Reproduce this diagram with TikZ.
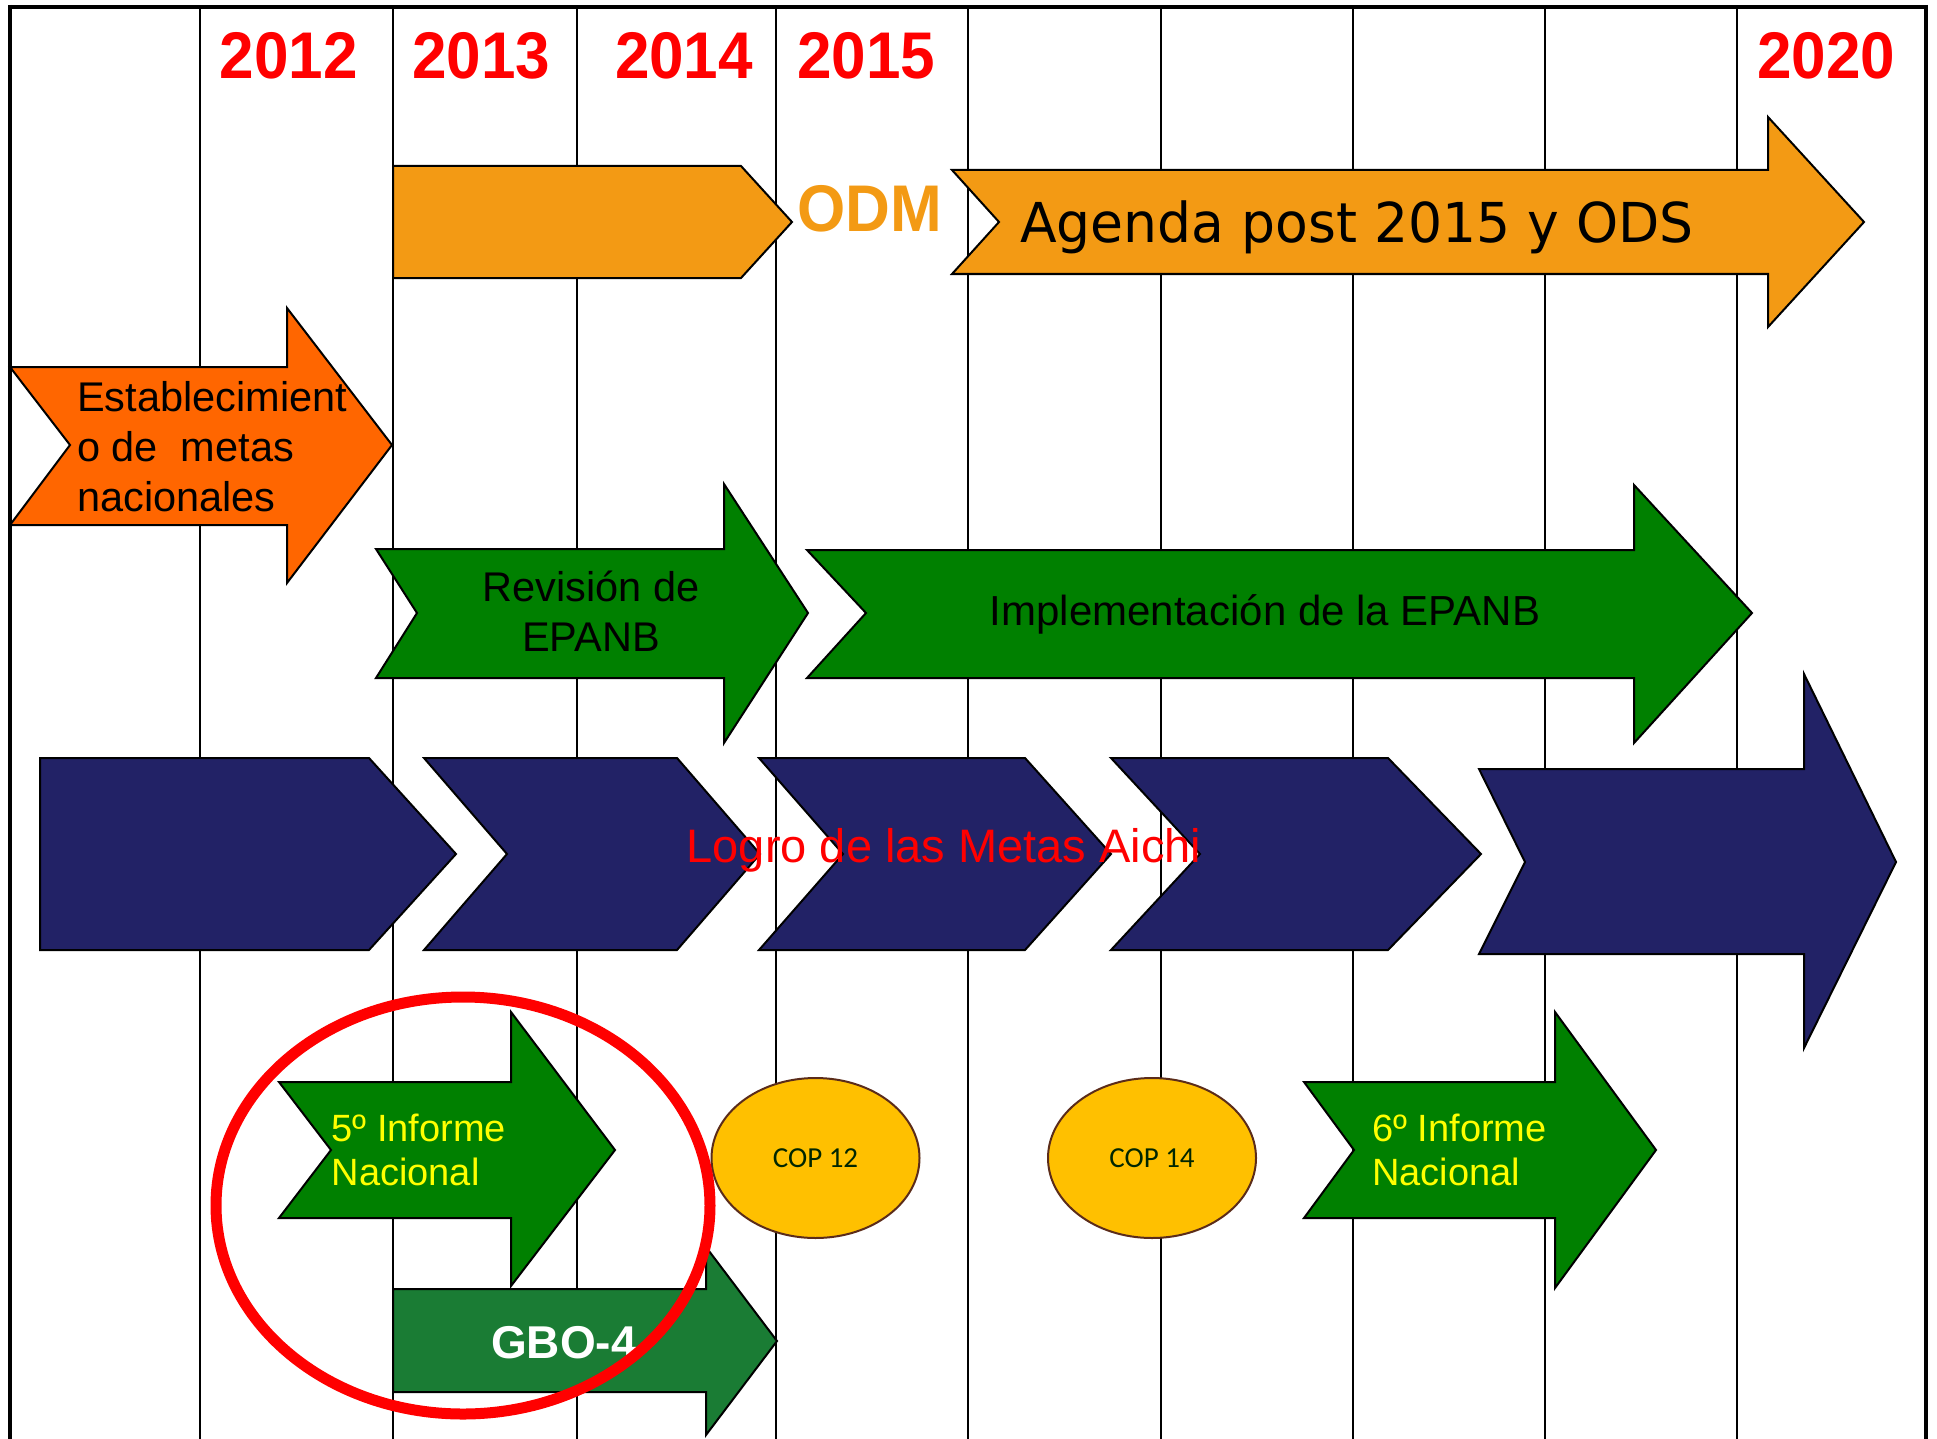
\documentclass[tikz,border=0pt]{standalone}
\usepackage{fontspec}
\usepackage{graphicx}
\setmainfont{Liberation Sans}
\newfontfamily\dejavu{DejaVu Sans}
\newfontfamily\carlito{Carlito}
\definecolor{odmorange}{HTML}{F39A14}
\definecolor{estorange}{HTML}{FF6600}
\definecolor{epgreen}{HTML}{008000}
\definecolor{gbogreen}{HTML}{1A7C34}
\definecolor{navy}{HTML}{222266}
\definecolor{copfill}{HTML}{FFC000}
\definecolor{copline}{HTML}{5B2C1A}
\definecolor{txtyellow}{HTML}{FFFF00}
\newcommand\myfs[2]{\fontsize{#1}{#2}\selectfont}
\begin{document}
\begin{tikzpicture}[x=1pt,y=-1pt,
  gridline/.style={line width=2.6pt,black},
  shp/.style={draw=black,line width=2pt,line join=miter},
  yr/.style={text=red,font=\bfseries\myfs{66}{66},inner sep=0pt,anchor=base},
  boxtxt/.style={inner sep=0pt,font=\myfs{41.5}{50},align=left,anchor=west},
  inftxt/.style={inner sep=0pt,font=\myfs{38}{44},align=left,anchor=west,text=txtyellow},
  cop/.style={draw=copline,line width=2pt,fill=copfill},
  coptxt/.style={inner sep=0pt,font=\carlito\myfs{29}{29},text=black!85!green,anchor=center}]
\useasboundingbox (0,0) rectangle (1937,1439);
\clip (0,0) rectangle (1937,1439);
% grid
\foreach \x in {200,393,577,776,968,1161,1353,1545,1737}
  \draw[gridline] (\x,7) -- (\x,1440);
\draw[line width=4.5pt] (8,7) -- (1928,7);
\draw[line width=3.2pt] (10,5) -- (10,1440);
\draw[line width=3.2pt] (1926,5) -- (1926,1440);
% years
\node[yr] (y2012) at (289,79) {\scalebox{0.94}[1]{2012}};
\node[yr] (y2013) at (481.5,79) {\scalebox{0.94}[1]{2013}};
\node[yr] (y2014) at (684,79) {\scalebox{0.94}[1]{2014}};
\node[yr] (y2015) at (866.5,79) {\scalebox{0.94}[1]{2015}};
\node[yr] (y2020) at (1826,79) {\scalebox{0.94}[1]{2020}};
% ODM bar
\path[shp,fill=odmorange] (393,166) -- (741,166) -- (792,222) -- (741,278) -- (393,278) -- cycle;
\node[inner sep=0pt,anchor=base,text=odmorange,font=\bfseries\myfs{66}{66}] (odm) at (870,232) {\scalebox{0.94}[1]{ODM}};
% Agenda arrow
\path[shp,fill=odmorange] (952,170) -- (1768,170) -- (1768,117) -- (1864,222) -- (1768,327) -- (1768,274) -- (952,274) -- (999,222) -- cycle;
\node[inner sep=0pt,anchor=base west,font=\dejavu\myfs{55}{55}] (agenda) at (1020,243) {\scalebox{0.974}[1]{Agenda post 2015 y ODS}};
% Establecimiento arrow
\path[shp,fill=estorange] (10,367) -- (287,367) -- (287,308) -- (392,445) -- (287,583) -- (287,525) -- (10,525) -- (70,445) -- cycle;
\node[boxtxt] (estab) at (77,447) {Establecimient\\o de\ \ metas\\nacionales};
% Revision arrow
\path[shp,fill=epgreen] (376,549) -- (724,549) -- (724,484) -- (808,613) -- (724,743) -- (724,678) -- (376,678) -- (417,613) -- cycle;
\node[boxtxt,align=center,anchor=center] (revision) at (591,611) {Revisión de\\EPANB};
% Implementacion arrow
\path[shp,fill=epgreen] (807,550) -- (1634,550) -- (1634,485) -- (1752,613) -- (1634,743) -- (1634,678) -- (807,678) -- (866,613) -- cycle;
\node[inner sep=0pt,anchor=base,font=\myfs{42}{42}] (implem) at (1265,625) {Implementación de la EPANB};
% navy chevrons
\path[shp,fill=navy] (40,758) -- (369,758) -- (456,854) -- (369,950) -- (40,950) -- cycle;
\path[shp,fill=navy] (424,758) -- (677,758) -- (760,854) -- (677,950) -- (424,950) -- (507,854) -- cycle;
\path[shp,fill=navy] (759,758) -- (1025,758) -- (1111,854) -- (1025,950) -- (759,950) -- (843,854) -- cycle;
\path[shp,fill=navy] (1111,758) -- (1388,758) -- (1481,854) -- (1388,950) -- (1111,950) -- (1200,854) -- cycle;
\path[shp,fill=navy] (1479,769) -- (1804,769) -- (1804,674) -- (1896,862) -- (1804,1048) -- (1804,954) -- (1479,954) -- (1525,862) -- cycle;
\node[inner sep=0pt,anchor=base,text=red,font=\myfs{47}{47}] (logro) at (944,862) {Logro de las Metas Aichi};
% 5o informe
\path[shp,fill=epgreen] (279,1082) -- (511,1082) -- (511,1012) -- (615,1150) -- (511,1286) -- (511,1218) -- (279,1218) -- (331,1150) -- cycle;
\node[inftxt] (inf5) at (331.5,1150) {5º Informe\\Nacional};
% GBO-4
\path[shp,fill=gbogreen] (393,1289) -- (706,1289) -- (706,1247) -- (777,1341) -- (706,1435) -- (706,1392) -- (393,1392) -- cycle;
\node[inner sep=0pt,anchor=base,text=white,font=\bfseries\myfs{46}{46}] (gbo) at (564,1358) {GBO-4};
% COP ellipses
\path[cop] (815.5,1158) ellipse [x radius=104, y radius=80];
\node[coptxt] (cop12) at (815.5,1158) {COP 12};
\path[cop] (1152,1158) ellipse [x radius=104, y radius=80];
\node[coptxt] (cop14) at (1152,1158) {COP 14};
% 6o informe
\path[shp,fill=epgreen] (1304,1082) -- (1555,1082) -- (1555,1012) -- (1656,1150) -- (1555,1288) -- (1555,1218) -- (1304,1218) -- (1354,1150) -- cycle;
\node[inftxt] (inf6) at (1372,1150) {6º Informe\\Nacional};
% red ellipse
\draw[red,line width=11pt] (463,1205.5) ellipse [x radius=247, y radius=208.5];
\end{tikzpicture}
\end{document}
